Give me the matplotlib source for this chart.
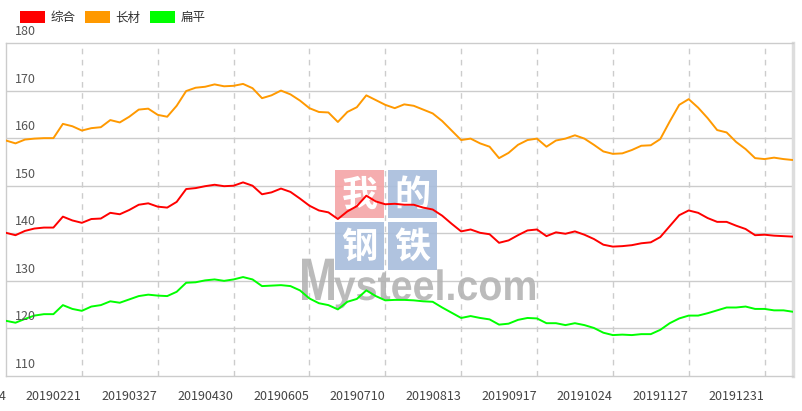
import matplotlib
matplotlib.use("Agg")
import matplotlib.pyplot as plt
import matplotlib.transforms as mtransforms
from matplotlib.patches import Patch, Rectangle, PathPatch
from matplotlib.textpath import TextPath
from matplotlib.font_manager import FontProperties

plt.rcParams['font.family'] = ['Noto Sans CJK SC', 'DejaVu Sans']

W, H = 803, 411

# one point every ~3 trading days, Jan 2019 - Jan 2020
zonghe = [140.1, 139.6, 140.5, 141.0, 141.2, 141.2, 143.5, 142.7, 142.2, 143.0,
          143.1, 144.3, 144.0, 144.9, 146.0, 146.3, 145.6, 145.4, 146.6, 149.3,
          149.5, 149.9, 150.2, 149.9, 150.0, 150.7, 150.0, 148.2, 148.6, 149.4,
          148.7, 147.3, 145.8, 144.8, 144.4, 143.0, 144.6, 145.7, 147.9, 146.7,
          146.1, 146.2, 146.0, 146.0, 145.4, 145.0, 143.7, 142.0, 140.4, 140.8,
          140.1, 139.8, 138.0, 138.5, 139.6, 140.6, 140.8, 139.4, 140.2, 139.9,
          140.4, 139.7, 138.8, 137.6, 137.2, 137.3, 137.5, 137.9, 138.1, 139.2,
          141.5, 143.8, 144.8, 144.3, 143.2, 142.4, 142.4, 141.6, 140.9, 139.6,
          139.7, 139.5, 139.4, 139.3]
changcai = [159.5, 158.9, 159.7, 159.9, 160.0, 160.0, 163.0, 162.5, 161.6, 162.1,
            162.3, 163.8, 163.3, 164.5, 166.0, 166.2, 164.9, 164.5, 166.8, 169.9,
            170.6, 170.8, 171.3, 170.9, 171.0, 171.4, 170.5, 168.4, 169.0, 170.0,
            169.2, 167.9, 166.3, 165.5, 165.4, 163.4, 165.5, 166.5, 169.0, 168.0,
            167.0, 166.3, 167.1, 166.8, 166.0, 165.2, 163.6, 161.6, 159.6, 159.9,
            158.9, 158.2, 155.8, 156.9, 158.6, 159.6, 159.9, 158.2, 159.5, 159.9,
            160.6, 159.9, 158.6, 157.2, 156.7, 156.8, 157.5, 158.4, 158.5, 159.8,
            163.5, 167.0, 168.2, 166.4, 164.2, 161.7, 161.2, 159.2, 157.7, 155.8,
            155.6, 155.9, 155.6, 155.4]
bianping = [121.6, 121.2, 122.0, 122.7, 123.0, 123.0, 124.9, 124.1, 123.7, 124.6,
            124.9, 125.7, 125.4, 126.1, 126.8, 127.1, 126.9, 126.8, 127.7, 129.6,
            129.7, 130.1, 130.3, 130.0, 130.3, 130.8, 130.3, 128.9, 129.0, 129.1,
            128.9, 128.0, 126.3, 125.3, 124.9, 124.0, 125.6, 126.2, 128.0, 126.8,
            125.9, 126.0, 126.0, 125.9, 125.7, 125.6, 124.4, 123.3, 122.2, 122.6,
            122.2, 121.9, 120.8, 121.0, 121.8, 122.2, 122.1, 121.1, 121.1, 120.7,
            121.1, 120.7, 120.1, 119.1, 118.6, 118.7, 118.6, 118.8, 118.8, 119.7,
            121.1, 122.1, 122.7, 122.7, 123.2, 123.8, 124.4, 124.4, 124.6, 124.1,
            124.1, 123.8, 123.8, 123.5]

date_labels = ["20190114", "20190221", "20190327", "20190430", "20190605", "20190710",
               "20190813", "20190917", "20191024", "20191127", "20191231"]
label_step = 8
y_ticks = [110, 120, 130, 140, 150, 160, 170, 180]

series = [("综合", zonghe, "#ff0000"), ("长材", changcai, "#ff9900"), ("扁平", bianping, "#00ff00")]

fig = plt.figure(figsize=(W / 100, H / 100), dpi=100)
ax = fig.add_axes([6 / W, (H - 376) / H, 787 / W, 333 / H])
ax.patch.set_facecolor("none")

x = list(range(len(zonghe)))
for name, vals, col in series:
    ax.plot(x, vals, color=col, lw=1.4, zorder=3, solid_joinstyle="round")

ax.set_xlim(0, len(zonghe) - 1)
ax.set_ylim(110, 180)

# grid
for v in y_ticks[1:-1]:
    ax.axhline(v, color="#cccccc", lw=1, zorder=1)
for k in range(1, len(date_labels)):
    ax.axvline(k * label_step, color="#cccccc", lw=1, ls=(0, (4, 4)), zorder=1)
ax.set_xticks([])
ax.set_yticks([])
for s in ["left", "top", "bottom"]:
    ax.spines[s].set_color("#cccccc")
    ax.spines[s].set_linewidth(1)
ax.spines["right"].set_color("#dddddd")
ax.spines["right"].set_linewidth(2.5)

# y labels sit just above their gridline
ytr = mtransforms.blended_transform_factory(ax.transAxes, ax.transData)
for v in y_ticks:
    t = mtransforms.offset_copy(ytr, fig=fig, x=9, y=8, units="dots")
    ax.text(0, v, str(v), transform=t, fontsize=9, color="#555555",
            ha="left", va="baseline", clip_on=False)

# x labels, shifted left of the split lines
xtr = mtransforms.blended_transform_factory(ax.transData, ax.transAxes)
for k, lab in enumerate(date_labels):
    t = mtransforms.offset_copy(xtr, fig=fig, x=-28, y=-24, units="dots")
    ax.text(k * label_step, 0, lab, transform=t, fontsize=9, color="#444444",
            ha="center", va="baseline", clip_on=False)

# legend
handles = [Patch(facecolor=c, edgecolor="none", label=n) for n, _, c in series]
fig.legend(handles=handles, loc="upper left", bbox_to_anchor=(14 / W, 1 - 5 / H),
           ncol=3, frameon=False, fontsize=9, handlelength=2.0, handleheight=1.1,
           handletextpad=0.4, columnspacing=0.8, borderpad=0, labelcolor="#333333")

# watermark
pix = mtransforms.Affine2D().scale(1 / W, -1 / H).translate(0, 1) + fig.transFigure
boxes = [(335, 170, "#f4a4a6", "我"), (388, 170, "#a8bddc", "的"),
         (335, 222, "#a8bddc", "钢"), (388, 222, "#a8bddc", "铁")]
for bx, by, bc, ch in boxes:
    ax.add_patch(Rectangle((bx, by), 49, 48, transform=pix, facecolor=bc,
                           edgecolor="none", zorder=2, alpha=0.9, clip_on=False))
    ax.text(bx + 24.5, by + 25, ch, transform=pix, fontsize=26, fontweight="bold",
            color="white", ha="center", va="center", zorder=2, clip_on=False)

fp = FontProperties(family="Liberation Sans", weight="bold")
for txt, x0, x1, cap in [("M", 302, 334, 43), ("ysteel.com", 334, 535, 22)]:
    tp = TextPath((0, 0), txt, size=1, prop=fp)
    bb = tp.get_extents()
    ref = 0.716 if txt == "M" else 0.519
    sx = (x1 - x0) / bb.width
    sy = cap / ref
    tr = mtransforms.Affine2D().translate(-bb.x0, 0).scale(sx, -sy).translate(x0, 300) + pix
    ax.add_patch(PathPatch(tp, transform=tr, facecolor="#b4b4b4", edgecolor="none",
                           zorder=2, alpha=0.9, clip_on=False))

fig.savefig("out.png", dpi=100)
